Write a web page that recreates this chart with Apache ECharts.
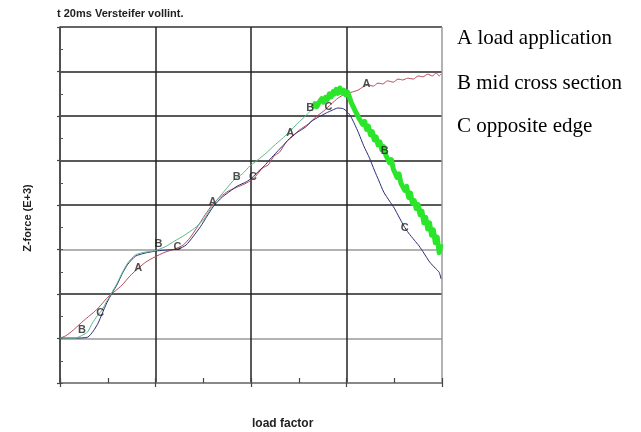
<!DOCTYPE html>
<html>
<head>
<meta charset="utf-8">
<script src="https://cdn.jsdelivr.net/npm/echarts@6/dist/echarts.min.js"></script>
<style>
html,body{margin:0;padding:0;background:#fff;}
#chart{width:641px;height:432px;}
</style>
</head>
<body>
<div id="chart"></div>
<script>
// Load factor (x) vs Z-force (E+3) (y)
const curveA = [
 [0,1.01],[0.06,1.06],[0.14,1.19],[0.21,1.33],[0.28,1.46],[0.37,1.62],[0.44,1.78],[0.50,1.93],
 [0.58,2.07],[0.65,2.20],[0.73,2.40],[0.82,2.58],[0.90,2.72],[0.99,2.83],[1.10,2.94],[1.20,3.01],
 [1.29,3.10],[1.36,3.26],[1.43,3.48],[1.52,3.78],[1.60,4.02],[1.69,4.20],[1.76,4.31],[1.83,4.38],
 [1.91,4.45],[1.99,4.54],[2.05,4.65],[2.12,4.83],[2.18,4.90],[2.24,5.10],[2.30,5.19],[2.37,5.42],
 [2.43,5.53],[2.51,5.69],[2.60,5.82],[2.68,5.98],[2.76,6.11],[2.84,6.27],[2.91,6.40],[2.98,6.49],
 [3.06,6.54],[3.12,6.58],[3.17,6.65],[3.23,6.70],[3.28,6.67],[3.33,6.74],[3.38,6.72],[3.43,6.79],
 [3.49,6.76],[3.54,6.83],[3.59,6.81],[3.64,6.85],[3.70,6.83],[3.75,6.90],[3.80,6.88],[3.85,6.94],
 [3.90,6.90],[3.94,6.97],[3.97,6.90],[3.99,6.94]
];
const curveBThin = [
 [0,1.01],[0.16,1.01],[0.24,1.08],[0.29,1.15],[0.34,1.35],[0.39,1.51],[0.44,1.64],[0.49,1.84],
 [0.54,2.02],[0.60,2.25],[0.65,2.47],[0.71,2.70],[0.79,2.88],[0.89,2.94],[0.99,2.97],[1.10,3.06],
 [1.20,3.19],[1.31,3.33],[1.41,3.48],[1.50,3.66],[1.57,3.89],[1.65,4.13],[1.74,4.36],[1.82,4.56],
 [1.91,4.70],[1.99,4.88],[2.07,5.01],[2.16,5.17],[2.24,5.33],[2.32,5.48],[2.41,5.66],[2.49,5.84],
 [2.58,6.02],[2.65,6.18]
];
const curveBThick = [
 [2.65,6.18],[2.67,6.28],[2.69,6.21],[2.71,6.30],[2.72,6.27],[2.74,6.39],[2.76,6.31],[2.78,6.42],
 [2.80,6.37],[2.82,6.50],[2.84,6.43],[2.86,6.55],[2.87,6.49],[2.89,6.60],[2.91,6.51],[2.93,6.63],
 [2.95,6.53],[2.97,6.58],[2.99,6.48],[3.01,6.54],[3.03,6.43],[3.05,6.30],[3.07,6.33],[3.09,6.12],
 [3.11,6.15],[3.13,5.95],[3.15,5.99],[3.17,5.81],[3.19,5.88],[3.21,5.70],[3.23,5.77],[3.25,5.58],
 [3.27,5.65],[3.29,5.46],[3.31,5.53],[3.33,5.35],[3.35,5.42],[3.37,5.24],[3.39,5.31],[3.41,5.13],
 [3.43,5.15],[3.45,4.95],[3.47,5.02],[3.49,4.81],[3.51,4.85],[3.53,4.62],[3.55,4.70],[3.57,4.49],
 [3.59,4.51],[3.61,4.33],[3.63,4.42],[3.65,4.17],[3.67,4.27],[3.69,4.04],[3.71,4.10],[3.73,3.92],
 [3.75,4.01],[3.77,3.78],[3.79,3.86],[3.81,3.60],[3.83,3.72],[3.85,3.46],[3.87,3.60],[3.89,3.32],
 [3.91,3.44],[3.93,3.15],[3.95,3.28],[3.97,2.93],[3.99,3.12]
];
const curveC = [
 [0,1.01],[0.16,1.01],[0.29,1.03],[0.35,1.17],[0.40,1.35],[0.44,1.55],[0.49,1.80],[0.54,2.00],
 [0.60,2.22],[0.65,2.45],[0.71,2.67],[0.79,2.85],[0.89,2.92],[1.02,2.97],[1.13,2.99],[1.24,3.01],
 [1.32,3.10],[1.39,3.28],[1.47,3.51],[1.54,3.75],[1.61,3.98],[1.70,4.18],[1.78,4.31],[1.86,4.43],
 [1.95,4.52],[2.01,4.61],[2.07,4.74],[2.14,4.88],[2.20,5.03],[2.27,5.19],[2.35,5.37],[2.42,5.53],
 [2.49,5.64],[2.57,5.75],[2.64,5.89],[2.71,5.98],[2.79,6.07],[2.85,6.13],[2.91,6.18],[2.97,6.16],
 [3.03,6.04],[3.08,5.84],[3.13,5.60],[3.18,5.33],[3.24,5.06],[3.29,4.79],[3.34,4.54],[3.39,4.29],
 [3.45,4.09],[3.50,3.93],[3.55,3.73],[3.60,3.53],[3.65,3.37],[3.71,3.21],[3.76,3.08],[3.81,2.92],
 [3.87,2.72],[3.93,2.58],[3.97,2.49],[3.99,2.34]
];
const curveLabels = [
 [0.82,2.58,'A'],[1.60,4.07,'A'],[2.41,5.62,'A'],[3.21,6.72,'A'],
 [0.23,1.19,'B'],[1.03,3.12,'B'],[1.85,4.63,'B'],[2.62,6.18,'B'],[3.40,5.21,'B'],
 [0.42,1.57,'C'],[1.23,3.06,'C'],[2.02,4.63,'C'],[2.81,6.20,'C'],[3.61,3.48,'C']
];
const legendLines = ['A load application','B mid cross section','C opposite edge'];
const titleText = 't 20ms Versteifer vollint.';
const xName = 'load factor';
const yName = 'Z-force (E+3)';

const chart = echarts.init(document.getElementById('chart'));
const serif = "'Liberation Serif','Times New Roman',serif";
const sans = "'Liberation Sans',Arial,sans-serif";
chart.setOption({
  animation:false,
  backgroundColor:'#fff',
  grid:{left:60,right:199,top:27,bottom:49,containLabel:false},
  title:[
    {text:titleText,left:57,top:8,padding:0,textStyle:{fontFamily:sans,fontWeight:'bold',fontSize:11,color:'#222'}},
    {text:xName,left:252,top:418,padding:0,textStyle:{fontFamily:sans,fontWeight:'bold',fontSize:12,color:'#222'}}
  ],
  graphic:[
    {type:'text',left:457,top:28,style:{text:legendLines[0],font:"21px "+serif,fill:'#000'}},
    {type:'text',left:457,top:73,style:{text:legendLines[1],font:"21px "+serif,fill:'#000'}},
    {type:'text',left:457,top:116,style:{text:legendLines[2],font:"21px "+serif,fill:'#000'}},
    {type:'text',x:28,y:218,rotation:Math.PI/2,style:{text:yName,font:"bold 11px "+sans,fill:'#222',textAlign:'center',textVerticalAlign:'middle'}}
  ],
  xAxis:[
    {type:'value',min:0,max:4,interval:1,
     axisLine:{show:true,onZero:false,lineStyle:{color:'#888',width:1.5}},
     axisTick:{show:true,length:4,lineStyle:{color:'#444',width:1.2}},
     axisLabel:{show:false},
     splitLine:{show:true,lineStyle:{color:['#444','#222','#222','#222','#999'],width:1.5}}},
    {type:'value',min:0,max:4,interval:0.5,position:'bottom',
     axisLine:{show:false},
     axisTick:{show:true,inside:true,length:5,lineStyle:{color:'#444',width:1.2}},
     axisLabel:{show:false},splitLine:{show:false}}
  ],
  yAxis:[
    {type:'value',min:0,max:8,interval:1,
     axisLine:{show:true,onZero:false,lineStyle:{color:'#444',width:1.5}},
     axisTick:{show:true,length:3,lineStyle:{color:'#444',width:1.2}},
     axisLabel:{show:false},
     splitLine:{show:true,lineStyle:{color:['#666','#999','#222','#999','#222','#222','#222','#222','#333'],width:1.5}}},
    {type:'value',min:0,max:8,interval:0.5,position:'left',
     axisLine:{show:false},
     axisTick:{show:true,inside:true,length:3,lineStyle:{color:'#555',width:1}},
     axisLabel:{show:false},splitLine:{show:false}}
  ],
  series:[
    {name:'A',type:'line',data:curveA,showSymbol:false,smooth:0.2,lineStyle:{color:'#b8485a',width:1},z:3},
    {name:'C',type:'line',data:curveC,showSymbol:false,smooth:0.2,lineStyle:{color:'#2c2c78',width:1},z:4},
    {name:'B',type:'line',data:curveBThin,showSymbol:false,smooth:0.2,lineStyle:{color:'#5cb88a',width:1},z:5},
    {name:'B thick',type:'line',data:curveBThick,showSymbol:false,smooth:false,lineStyle:{color:'#2be52b',width:5,join:'round'},z:6},
    {name:'labels',type:'scatter',data:curveLabels,symbolSize:1,itemStyle:{color:'rgba(0,0,0,0)'},z:8,
     label:{show:true,position:'inside',formatter:p=>p.value[2],fontSize:11,fontWeight:'bold',color:'#222',fontFamily:sans}}
  ]
});
</script>
</body>
</html>
